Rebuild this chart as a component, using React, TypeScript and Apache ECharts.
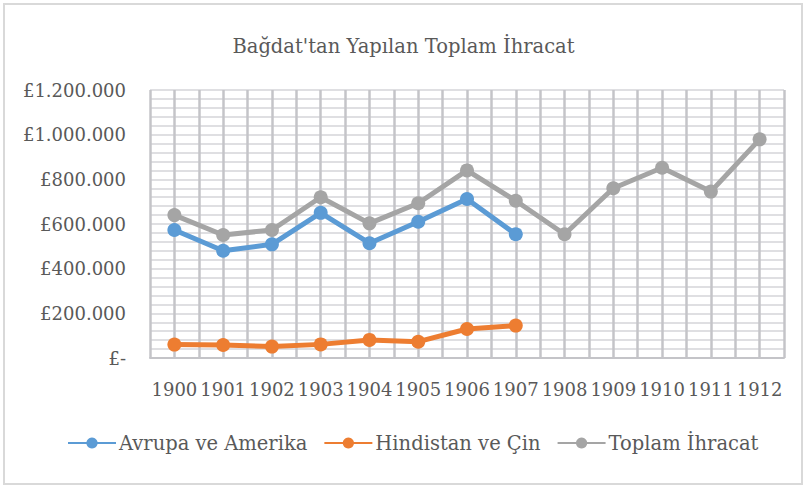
import React, { useEffect, useRef } from "react";
import * as echarts from "echarts";

const years = ["1900", "1901", "1902", "1903", "1904", "1905", "1906", "1907", "1908", "1909", "1910", "1911", "1912"];
const avrupaAmerika = [573000, 480000, 509000, 650000, 514000, 610000, 712000, 554000];
const hindistanCin = [60000, 58000, 51000, 61000, 81000, 73000, 130000, 145000];
const toplamIhracat = [640000, 551000, 573000, 720000, 603000, 693000, 840000, 704000, 554000, 760000, 852000, 745000, 979000];
const yTicks = [0, 200000, 400000, 600000, 800000, 1000000, 1200000];

const FONT = "'DejaVu Serif', 'Liberation Serif', serif";

function fmt(v: number): string {
  if (v === 0) return "£-";
  return "£" + String(v).replace(/\B(?=(\d{3})+(?!\d))/g, ".");
}

export default function App() {
  const ref = useRef<HTMLDivElement>(null);
  useEffect(() => {
    if (!ref.current) return;
    const chart = echarts.init(ref.current, null, { renderer: "svg" });
    const mk = (name: string, data: number[], color: string) => ({
      name,
      type: "line",
      data,
      xAxisIndex: 0,
      yAxisIndex: 0,
      symbol: "circle",
      symbolSize: 14,
      lineStyle: { width: 5, color },
      itemStyle: { color },
      z: 5,
    });
    chart.setOption({
      animation: false,
      backgroundColor: "#ffffff",
      title: {
        text: "Bağdat'tan Yapılan Toplam İhracat",
        left: "center",
        top: 31,
        textStyle: { fontFamily: FONT, fontSize: 19.5, fontWeight: "normal", color: "#595959" },
      },
      graphic: [
        {
          type: "rect",
          shape: { x: 4, y: 4, width: 798, height: 480 },
          style: { fill: "none", stroke: "#d9d9d9", lineWidth: 2 },
          silent: true,
        },
      ],
      legend: {
        bottom: 30,
        left: 62,
        itemWidth: 48,
        itemHeight: 14,
        itemGap: 16,
        textStyle: { fontFamily: FONT, fontSize: 19.5, color: "#595959", padding: [0, 0, 0, -2] },
        data: ["Avrupa ve Amerika", "Hindistan ve Çin", "Toplam İhracat"],
      },
      grid: { left: 150, right: 23, top: 90, bottom: 130 },
      xAxis: [
        {
          type: "category",
          data: years,
          boundaryGap: true,
          axisLine: { show: true, lineStyle: { color: "#c4c4c8", width: 2 } },
          axisTick: { show: false },
          splitLine: { show: false },
          axisLabel: { fontFamily: FONT, fontSize: 18, color: "#595959", margin: 22, interval: 0 },
        },
        {
          type: "value",
          min: 0,
          max: 26,
          interval: 1,
          position: "top",
          axisLine: { show: false },
          axisTick: { show: false },
          axisLabel: { show: false },
          splitLine: { show: true, lineStyle: { color: "#c4c4c8", width: 2.5 } },
        },
      ],
      yAxis: {
        type: "value",
        min: yTicks[0],
        max: yTicks[yTicks.length - 1],
        interval: 200000,
        axisLine: { show: false },
        axisTick: { show: false },
        axisLabel: { fontFamily: FONT, fontSize: 18, color: "#595959", margin: 24, formatter: (v: number) => fmt(v) },
        splitLine: { show: true, lineStyle: { color: "#d4d4d8", width: 1.5 } },
        minorTick: { show: false, splitNumber: 5 },
        minorSplitLine: { show: true, lineStyle: { color: "#d4d4d8", width: 1.5 } },
      },
      series: [
        mk("Avrupa ve Amerika", avrupaAmerika, "#5b9bd5"),
        mk("Hindistan ve Çin", hindistanCin, "#ed7d31"),
        mk("Toplam İhracat", toplamIhracat, "#a5a5a5"),
      ],
    });
    return () => chart.dispose();
  }, []);
  return (
    <div
      ref={ref}
      style={{ position: "fixed", left: 0, top: 0, width: 807, height: 488, background: "#fff" }}
    />
  );
}
